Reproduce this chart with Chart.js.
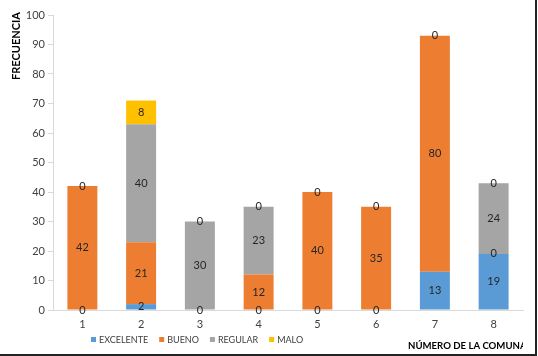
<!DOCTYPE html>
<html><head><meta charset="utf-8">
<script src="https://cdn.jsdelivr.net/npm/chart.js@4"></script>
<style>html,body{margin:0;padding:0;background:#fff;}#wrap{width:538px;height:356px;position:relative;}</style>
</head><body><div id="wrap"><canvas id="c" width="538" height="356"></canvas></div>
<script>
const categories = ['1','2','3','4','5','6','7','8'];
const seriesNames = ['EXCELENTE','BUENO','REGULAR','MALO'];
const excelente = [0,2,0,0,0,0,13,19];
const bueno = [42,21,0,12,40,35,80,0];
const regular = [0,40,30,23,0,0,0,24];
const malo = [0,8,0,0,0,0,0,0];
const yTicks = [0,10,20,30,40,50,60,70,80,90,100];
const yTitle = 'FRECUENCIA';
const xTitle = 'NÚMERO DE LA COMUNA';
const colors = ['#5B9BD5','#ED7D31','#A5A5A5','#FFC000'];
const FONT = 'Lato, "Open Sans", sans-serif';

const labelPlugin = {
  id:'labels',
  afterDatasetsDraw(chart){
    const ctx = chart.ctx;
    ctx.save();
    ctx.font = '11px ' + FONT;
    ctx.fillStyle = '#262626';
    ctx.textAlign = 'center';
    ctx.textBaseline = 'middle';
    const seen = new Set();
    chart.data.datasets.forEach((ds,di)=>{
      const meta = chart.getDatasetMeta(di);
      meta.data.forEach((el,i)=>{
        const v = ds.data[i];
        const cy = (el.y + el.base)/2;
        const key = Math.round(el.x)+'_'+Math.round(cy)+'_'+v;
        if (seen.has(key)) return;
        seen.add(key);
        ctx.fillText(String(v), el.x, cy);
      });
    });
    ctx.restore();
  },
  afterDraw(chart){
    const ctx = chart.ctx;
    ctx.save();
    ctx.font = 'bold 11px ' + FONT;
    ctx.fillStyle = '#000';
    ctx.translate(16, 46);
    ctx.rotate(-Math.PI/2);
    ctx.textAlign='center'; ctx.textBaseline='middle';
    ctx.fillText(yTitle,0,0);
    ctx.restore();
    ctx.save();
    ctx.beginPath(); ctx.rect(0,0,523,356); ctx.clip();
    ctx.font = 'bold 9.6px ' + FONT;
    ctx.fillStyle = '#000';
    ctx.textAlign='left'; ctx.textBaseline='middle';
    ctx.fillText(xTitle,408,346);
    ctx.restore();
    ctx.save();
    ctx.font = '9px ' + FONT;
    ctx.textBaseline='middle'; ctx.textAlign='left';
    let x = 91;
    const y = 340;
    seriesNames.forEach((n,i)=>{
      ctx.fillStyle = colors[i];
      ctx.fillRect(x, y-3, 5, 5);
      x += 8;
      ctx.fillStyle = '#404040';
      ctx.fillText(n, x, y);
      x += ctx.measureText(n).width + 11;
    });
    ctx.restore();
    ctx.save();
    ctx.fillStyle = '#222';
    ctx.fillRect(535,0,2,356);
    ctx.fillRect(0,354,537,2);
    ctx.restore();
  }
};

const datasets = [excelente,bueno,regular,malo].map((d,i)=>({
  label: seriesNames[i], data: d, backgroundColor: colors[i], borderWidth:0,
  barPercentage:0.51, categoryPercentage:1
}));

new Chart(document.getElementById('c'),{
  type:'bar',
  data:{labels:categories, datasets},
  options:{
    responsive:false, animation:false, devicePixelRatio:1,
    layout:{padding:{top:15,right:15,left:0,bottom:0}},
    plugins:{legend:{display:false}, tooltip:{enabled:false}},
    scales:{
      x:{stacked:true,
         grid:{display:false, drawTicks:false},
         border:{color:'#D9D9D9', width:1},
         ticks:{color:'#404040', font:{family:FONT,size:11}, padding:8},
         afterFit(s){ s.height = 46; }
      },
      y:{stacked:true, min:0, max:100,
         afterBuildTicks(s){ s.ticks = yTicks.map(v=>({value:v})); },
         grid:{drawOnChartArea:false, drawTicks:true, tickLength:5, tickColor:'#D9D9D9'},
         border:{color:'#D9D9D9', width:1},
         ticks:{color:'#404040', font:{family:FONT,size:11}, padding:3},
         afterFit(s){ s.width = 53; }
      }
    }
  },
  plugins:[labelPlugin]
});
</script></body></html>
